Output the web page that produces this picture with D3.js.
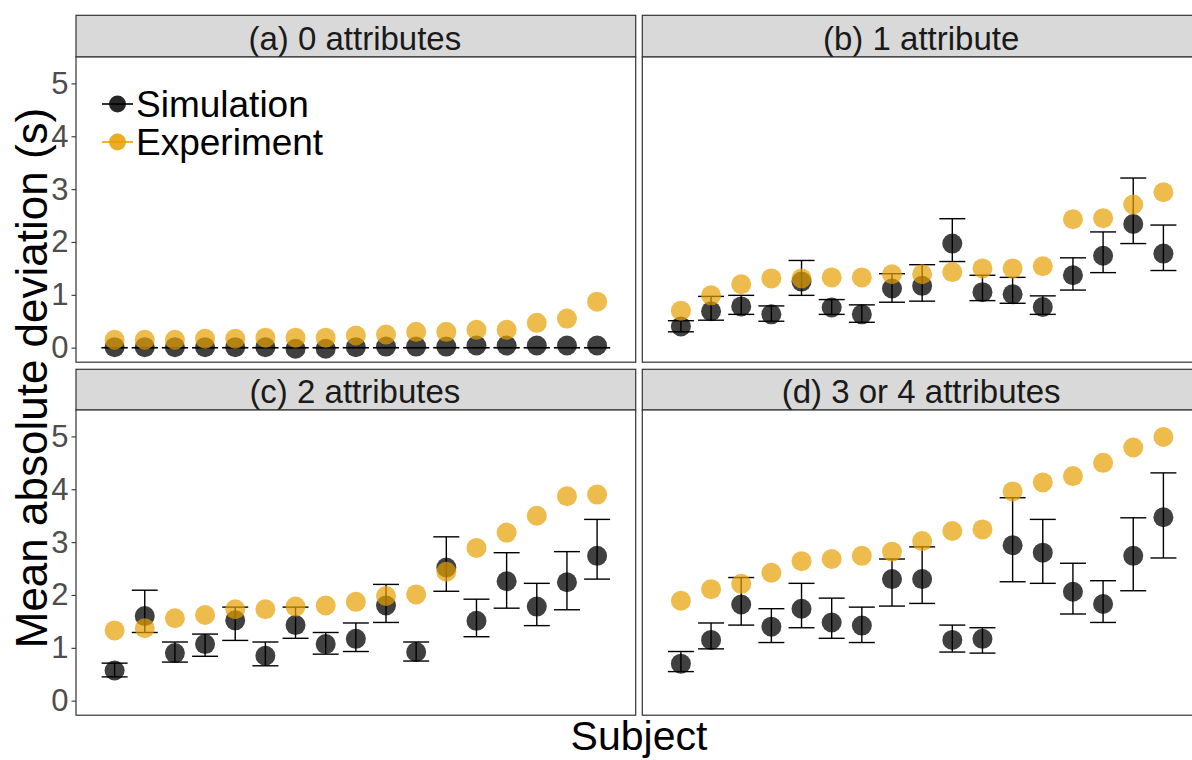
<!DOCTYPE html>
<html>
<head>
<meta charset="utf-8">
<script src="https://cdn.jsdelivr.net/npm/d3@7"></script>
<style>
  html, body { margin: 0; padding: 0; background: #ffffff; }
  svg { display: block; font-family: "Liberation Sans", Arial, sans-serif; }
</style>
</head>
<body>
<svg id="chart" width="1192" height="760"></svg>
<script>
// Facet titles
const panelTitles = ["(a) 0 attributes", "(b) 1 attribute", "(c) 2 attributes", "(d) 3 or 4 attributes"];
const seriesNames = ["Simulation", "Experiment"];
const yTicks = [0, 1, 2, 3, 4, 5];

// Subjects 1..17 in each panel, ordered by experimental deviation
const subjects = d3.range(1, 18);

// (a) 0 attributes
const expA = [0.15, 0.15, 0.15, 0.17, 0.17, 0.19, 0.19, 0.19, 0.23, 0.25, 0.30, 0.30, 0.34, 0.34, 0.47, 0.55, 0.87];
const simA = [0.01, 0.01, 0.01, 0.01, 0.01, 0.01, -0.02, -0.02, 0.01, 0.02, 0.02, 0.02, 0.04, 0.04, 0.04, 0.04, 0.04];
const loA  = [0, 0, 0, 0, 0, 0, 0, 0, 0, 0, 0, 0, 0, 0, 0, 0, 0];
const hiA  = [0, 0, 0, 0, 0, 0, 0, 0, 0, 0, 0, 0, 0, 0, 0, 0, 0];

// (b) 1 attribute
const expB = [0.70, 0.99, 1.20, 1.31, 1.31, 1.33, 1.33, 1.39, 1.39, 1.43, 1.50, 1.50, 1.54, 2.43, 2.45, 2.71, 2.94];
const simB = [0.40, 0.69, 0.78, 0.63, 1.25, 0.76, 0.63, 1.12, 1.17, 1.97, 1.05, 1.01, 0.77, 1.37, 1.74, 2.34, 1.78];
const loB  = [0.30, 0.52, 0.63, 0.50, 0.99, 0.63, 0.48, 0.86, 0.88, 1.63, 0.89, 0.84, 0.63, 1.09, 1.42, 1.97, 1.46];
const hiB  = [0.51, 0.97, 0.99, 0.79, 1.65, 0.91, 0.81, 1.40, 1.57, 2.44, 1.37, 1.33, 0.98, 1.70, 2.19, 3.21, 2.32];

// (c) 2 attributes
const expC = [1.33, 1.37, 1.56, 1.62, 1.73, 1.73, 1.78, 1.80, 1.87, 1.98, 2.01, 2.44, 2.89, 3.18, 3.50, 3.87, 3.90];
const simC = [0.57, 1.60, 0.90, 1.07, 1.52, 0.85, 1.43, 1.07, 1.17, 1.80, 0.92, 2.52, 1.51, 2.26, 1.78, 2.24, 2.74];
const loC  = [0.45, 1.29, 0.73, 0.84, 1.14, 0.66, 1.18, 0.88, 0.93, 1.48, 0.75, 2.07, 1.21, 1.75, 1.42, 1.72, 2.30];
const hiC  = [0.71, 2.09, 1.11, 1.26, 1.77, 1.11, 1.77, 1.29, 1.47, 2.20, 1.11, 3.10, 1.92, 2.80, 2.22, 2.82, 3.43];

// (d) 3 or 4 attributes
const expD = [1.89, 2.11, 2.21, 2.42, 2.64, 2.68, 2.74, 2.82, 3.02, 3.21, 3.24, 3.96, 4.13, 4.25, 4.50, 4.79, 4.99];
const simD = [0.70, 1.15, 1.82, 1.40, 1.74, 1.48, 1.42, 2.30, 2.30, 1.15, 1.17, 2.94, 2.80, 2.06, 1.83, 2.74, 3.47];
const loD  = [0.55, 0.98, 1.43, 1.10, 1.38, 1.18, 1.10, 1.79, 1.84, 0.92, 0.90, 2.25, 2.22, 1.64, 1.48, 2.08, 2.70];
const hiD  = [0.93, 1.47, 2.33, 1.74, 2.22, 1.94, 1.77, 2.68, 2.91, 1.43, 1.38, 3.84, 3.43, 2.60, 2.27, 3.46, 4.31];

const panels = [
  { title: panelTitles[0], exp: expA, sim: simA, lo: loA, hi: hiA },
  { title: panelTitles[1], exp: expB, sim: simB, lo: loB, hi: hiB },
  { title: panelTitles[2], exp: expC, sim: simC, lo: loC, hi: hiC },
  { title: panelTitles[3], exp: expD, sim: simD, lo: loD, hi: hiD }
];

const simColor = "#000000";
const expColor = "#E69F00";

// Facet grid geometry
const colX = [76, 642.3];
const panelW = 559.7;
const rowStripTop = [15.3, 369.3];
const stripH = [41.7, 40.7];
const bodyH = 305.2;

const svg = d3.select("#chart");

const x = d3.scaleLinear().domain([1 - 1.28, 17 + 1.28]);
const yDomain = [-0.275, 5.5];

panels.forEach((p, i) => {
  const col = i % 2, row = Math.floor(i / 2);
  const left = colX[col];
  const stripTop = rowStripTop[row];
  const bodyTop = stripTop + stripH[row];
  const bodyBottom = bodyTop + bodyH;

  const xs = x.copy().range([left, left + panelW]);
  const ys = d3.scaleLinear().domain(yDomain).range([bodyBottom, bodyTop]);

  const g = svg.append("g");

  // strip
  g.append("rect")
    .attr("x", left).attr("y", stripTop)
    .attr("width", panelW).attr("height", stripH[row])
    .attr("fill", "#d9d9d9").attr("stroke", "#333333").attr("stroke-width", 1.2);
  g.append("text")
    .attr("x", left + panelW / 2 - 1)
    .attr("y", stripTop + stripH[row] - 7)
    .attr("text-anchor", "middle")
    .attr("font-size", 33)
    .attr("fill", "#1a1a1a")
    .text(p.title);

  // panel background
  g.append("rect")
    .attr("x", left).attr("y", bodyTop)
    .attr("width", panelW).attr("height", bodyH)
    .attr("fill", "#ffffff");

  const plot = g.append("g");

  // simulation means
  plot.selectAll("circle.sim").data(subjects).join("circle")
    .attr("class", "sim")
    .attr("cx", d => xs(d))
    .attr("cy", (d, k) => ys(p.sim[k]))
    .attr("r", 10)
    .attr("fill", simColor)
    .attr("fill-opacity", 0.75);

  // simulation error bars
  const eb = plot.selectAll("g.eb").data(subjects).join("g").attr("class", "eb")
    .attr("stroke", "#000000").attr("stroke-width", 1.4);
  eb.append("line")
    .attr("x1", d => xs(d)).attr("x2", d => xs(d))
    .attr("y1", (d, k) => ys(p.lo[k])).attr("y2", (d, k) => ys(p.hi[k]));
  eb.append("line")
    .attr("x1", d => xs(d) - 13).attr("x2", d => xs(d) + 13)
    .attr("y1", (d, k) => ys(p.lo[k])).attr("y2", (d, k) => ys(p.lo[k]));
  eb.append("line")
    .attr("x1", d => xs(d) - 13).attr("x2", d => xs(d) + 13)
    .attr("y1", (d, k) => ys(p.hi[k])).attr("y2", (d, k) => ys(p.hi[k]));

  // experiment means
  plot.selectAll("circle.exp").data(subjects).join("circle")
    .attr("class", "exp")
    .attr("cx", d => xs(d))
    .attr("cy", (d, k) => ys(p.exp[k]))
    .attr("r", 10)
    .attr("fill", expColor)
    .attr("fill-opacity", 0.7);

  // panel border
  g.append("rect")
    .attr("x", left).attr("y", bodyTop)
    .attr("width", panelW).attr("height", bodyH)
    .attr("fill", "none").attr("stroke", "#333333").attr("stroke-width", 1.2);

  // y axis on left column only
  if (col === 0) {
    const axis = d3.axisLeft(ys).tickValues(yTicks).tickSize(4.5).tickPadding(3).tickFormat(d3.format("d"));
    const ag = g.append("g").attr("transform", `translate(${left},0)`).call(axis);
    ag.select(".domain").remove();
    ag.selectAll(".tick line").attr("stroke", "#333333").attr("stroke-width", 1.1);
    ag.selectAll(".tick text")
      .attr("font-size", 31)
      .attr("font-family", "'Liberation Sans', Arial, sans-serif")
      .attr("fill", "#4d4d4d");
  }

  // legend inside panel (a)
  if (i === 0) {
    const lg = g.append("g");
    const items = [
      { name: seriesNames[0], color: simColor, op: 0.85, y: 104 },
      { name: seriesNames[1], color: expColor, op: 0.85, y: 142 }
    ];
    items.forEach(it => {
      lg.append("line")
        .attr("x1", 102).attr("x2", 133)
        .attr("y1", it.y).attr("y2", it.y)
        .attr("stroke", it.color).attr("stroke-width", 1.6);
      lg.append("circle")
        .attr("cx", 117.5).attr("cy", it.y).attr("r", 8.5)
        .attr("fill", it.color).attr("fill-opacity", it.op);
      lg.append("text")
        .attr("x", 136).attr("y", it.y + 13)
        .attr("font-size", 37)
        .attr("fill", "#000000")
        .text(it.name);
    });
  }
});

// axis titles
svg.append("text")
  .attr("x", 639).attr("y", 750)
  .attr("text-anchor", "middle")
  .attr("font-size", 41)
  .attr("fill", "#000000")
  .text("Subject");

svg.append("text")
  .attr("transform", "translate(47,378) rotate(-90)")
  .attr("text-anchor", "middle")
  .attr("font-size", 44)
  .attr("fill", "#000000")
  .text("Mean absolute deviation (s)");
</script>
</body>
</html>
